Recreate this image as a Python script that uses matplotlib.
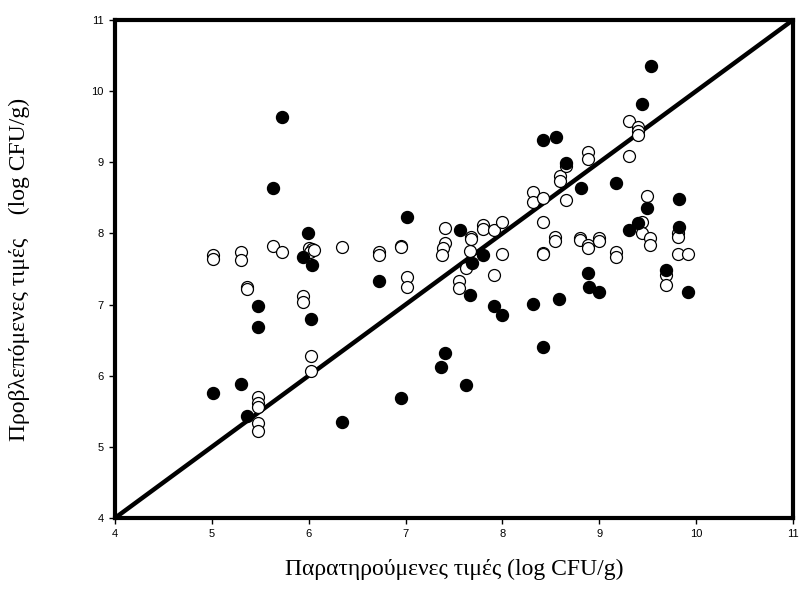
import numpy as np
import matplotlib.pyplot as plt

# παρατηρούμενες / προβλεπόμενες τιμές (log CFU/g)
# γεμάτοι κύκλοι
obs_filled = [5.01, 5.30, 5.36, 5.48, 5.48, 5.63, 5.72, 5.94, 5.99, 6.03, 6.02,
              6.34, 6.73, 6.95, 7.01, 7.37, 7.41, 7.56, 7.62, 7.67, 7.69, 7.80,
              7.91, 8.00, 8.32, 8.42, 8.58, 8.42, 8.55, 8.66, 8.81, 8.88, 8.89,
              9.00, 9.17, 9.31, 9.40, 9.44, 9.49, 9.53, 9.69, 9.82, 9.82, 9.92]
pred_filled = [5.76, 5.89, 5.44, 6.98, 6.69, 8.64, 9.64, 7.67, 8.01, 7.56, 6.80,
               5.35, 7.33, 5.69, 8.23, 6.12, 6.32, 8.05, 5.87, 7.14, 7.59, 7.69,
               6.98, 6.86, 7.01, 6.41, 7.08, 9.31, 9.35, 8.99, 8.64, 7.45, 7.25,
               7.17, 8.71, 8.05, 8.15, 9.82, 8.36, 10.35, 7.49, 8.49, 8.09, 7.18]

# ανοιχτοί κύκλοι
obs_open = [5.01, 5.01, 5.30, 5.30, 5.36, 5.36, 5.48, 5.48, 5.48, 5.48, 5.48,
            5.63, 5.72, 5.94, 5.94, 6.00, 6.03, 6.01, 6.05, 6.02, 6.02, 6.34,
            6.73, 6.73, 6.95, 6.95, 7.01, 7.01, 7.41, 7.41, 7.39, 7.38, 7.55,
            7.55, 7.62, 7.67, 7.68, 7.68, 7.80, 7.80, 7.91, 8.00, 8.00, 7.91,
            8.32, 8.32, 8.42, 8.42, 8.42, 8.42, 8.54, 8.54, 8.59, 8.59, 8.66,
            8.66, 8.80, 8.80, 8.88, 8.88, 8.88, 8.88, 9.00, 9.00, 9.17, 9.17,
            9.31, 9.31, 9.40, 9.40, 9.40, 9.44, 9.44, 9.49, 9.52, 9.52, 9.69,
            9.69, 9.81, 9.81, 9.81, 9.92]
pred_open = [7.69, 7.64, 7.74, 7.62, 7.25, 7.22, 5.70, 5.62, 5.56, 5.34, 5.22,
             7.83, 7.74, 7.12, 7.03, 7.80, 7.78, 7.74, 7.77, 6.28, 6.06, 7.81,
             7.74, 7.70, 7.83, 7.81, 7.39, 7.25, 8.07, 7.87, 7.80, 7.69, 7.33,
             7.23, 7.51, 7.75, 7.95, 7.92, 8.12, 8.06, 8.05, 8.16, 7.71, 7.42,
             8.58, 8.44, 8.50, 8.16, 7.73, 7.71, 7.95, 7.89, 8.80, 8.74, 8.95,
             8.47, 7.94, 7.91, 9.15, 9.05, 7.84, 7.80, 7.93, 7.89, 7.74, 7.67,
             9.58, 9.09, 9.50, 9.44, 9.38, 8.16, 8.01, 8.53, 7.94, 7.84, 7.42,
             7.28, 8.00, 7.95, 7.71, 7.71]

ticks = [4, 5, 6, 7, 8, 9, 10, 11]

fig = plt.figure(figsize=(8.03, 5.93), dpi=100)
ax = fig.add_axes([0.1432, 0.1265, 0.8443, 0.8398])

# γραμμή 1:1
ax.plot([4, 11], [4, 11], color='black', linewidth=3.2, zorder=1)

ax.plot(obs_open, pred_open, linestyle='none', marker='o', markersize=8.6,
        markerfacecolor='white', markeredgecolor='black', markeredgewidth=0.9,
        zorder=2)
ax.plot(obs_filled, pred_filled, linestyle='none', marker='o', markersize=8.6,
        markerfacecolor='black', markeredgecolor='black', zorder=3)

ax.set_xlim(4, 11)
ax.set_ylim(4, 11)
ax.set_xticks(ticks)
ax.set_yticks(ticks)
ax.tick_params(direction='out', length=4, width=1, labelsize=8, pad=4)
for lab in ax.get_xticklabels() + ax.get_yticklabels():
    lab.set_family('Liberation Sans')
for s in ax.spines.values():
    s.set_linewidth(3)

ax.set_xlabel('Παρατηρούμενες τιμές (log CFU/g)', family='Liberation Serif',
              fontsize=17, labelpad=14)
ax.set_ylabel('Προβλεπόμενες τιμές    (log CFU/g)', family='Liberation Serif',
              fontsize=17, labelpad=44)

fig.savefig('out.png', dpi=100)
